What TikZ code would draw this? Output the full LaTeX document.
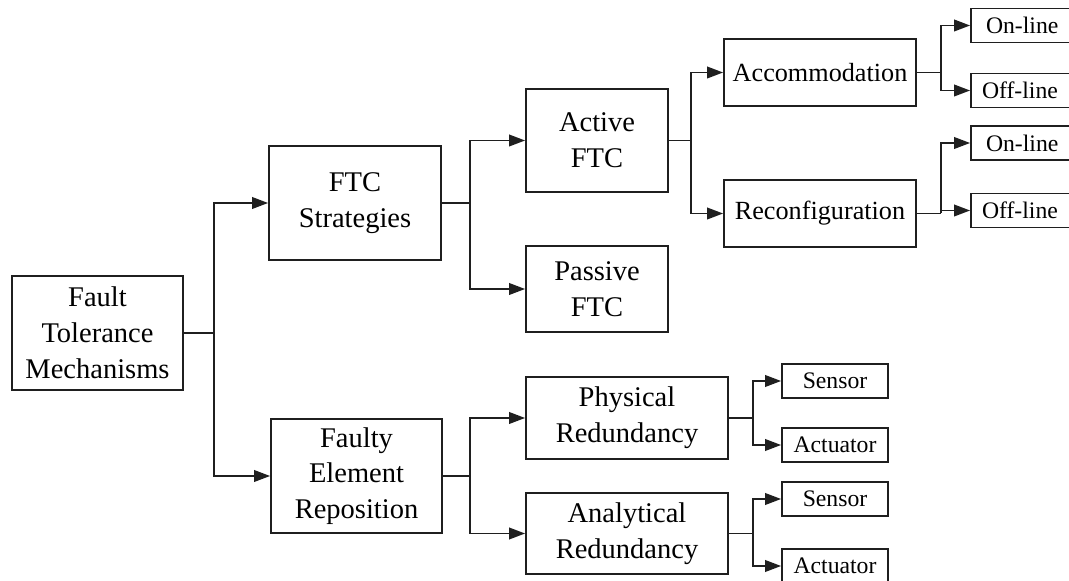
\documentclass[tikz,border=0pt]{standalone}
\usepackage{fontspec}
\setmainfont{Liberation Serif}
\usetikzlibrary{positioning,arrows.meta,calc}

\begin{document}
\begin{tikzpicture}[
  x=0.5pt, y=-0.5pt,
  >={Triangle[length=8pt, width=5.8pt]},
  box/.style={draw=black!88, line width=0.9pt, align=center, inner sep=2pt,
              font=\fontsize{14.25}{17.9}\selectfont},
  mid/.style={box, font=\fontsize{13.1}{16}\selectfont},
  leaf/.style={box, font=\fontsize{11.85}{14}\selectfont,
               minimum height=17pt},
  link/.style={line width=0.9pt, draw=black!88},
  flow/.style={link, ->},
]
\useasboundingbox (0,0) rectangle (1069,581);

% ---- root ----
\node[box, minimum width=85.5pt, minimum height=57pt] (ftm) at (97.5,333)
  {Fault\\Tolerance\\Mechanisms};

% ---- first level ----
\node[box, minimum width=86pt, minimum height=57pt] (ftc) at (355,203)
  {FTC\\Strategies};
\node[box, minimum width=85.5pt, minimum height=57pt] (fer) at (356.5,476)
  {Faulty\\Element\\Reposition};

% ---- second level ----
\node[box, minimum width=71pt, minimum height=51.5pt] (active) at (597,140.5)
  {Active\\FTC};
\node[box, minimum width=71pt, minimum height=43pt] (passive) at (597,289)
  {Passive\\FTC};
\node[box, minimum width=101pt, minimum height=41pt] (phys) at (627,418)
  {Physical\\Redundancy};
\node[box, minimum width=101pt, minimum height=40.5pt] (anal) at (627,533.5)
  {Analytical\\Redundancy};

% ---- third level ----
\node[mid, minimum width=96pt, minimum height=33.5pt] (accom) at (820,72.5)
  {Accommodation};
\node[mid, minimum width=96pt, minimum height=33.5pt] (reconf) at (820,213.5)
  {Reconfiguration};

% ---- leaves (right column runs off the page edge) ----
\node[leaf, minimum width=53pt, text width=44pt, align=left] (on1)  at (1024,25.5)  {\hspace{3pt}On-line};
\node[leaf, minimum width=53pt, text width=44pt, align=left] (off1) at (1024,90.5)  {\hspace{1pt}Off-line};
\node[leaf, minimum width=53pt, text width=44pt, align=left] (on2)  at (1024,143)   {\hspace{3pt}On-line};
\node[leaf, minimum width=53pt, text width=44pt, align=left] (off2) at (1024,210.5) {\hspace{1pt}Off-line};
\node[leaf, minimum width=53pt] (sen1) at (835,381)    {Sensor};
\node[leaf, minimum width=53pt] (act1) at (835,445)    {Actuator};
\node[leaf, minimum width=53pt] (sen2) at (835,499)    {Sensor};
\node[leaf, minimum width=53pt] (act2) at (835,566)    {Actuator};

% ---- flows ----
\draw[link] (ftm.east) -- ++(30,0) coordinate (j0);
\draw[flow] (j0) |- (ftc.west);
\draw[flow] (j0) |- (fer.west);

\draw[link] (ftc.east) -- ++(28,0) coordinate (j1);
\draw[flow] (j1) |- (active.west);
\draw[flow] (j1) |- (passive.west);

\draw[link] (fer.east) -- ++(27,0) coordinate (j2);
\draw[flow] (j2) |- (phys.west);
\draw[flow] (j2) |- (anal.west);

\draw[link] (active.east) -- ++(22,0) coordinate (j3);
\draw[flow] (j3) |- (accom.west);
\draw[flow] (j3) |- (reconf.west);

\draw[link] (accom.east) -- ++(24,0) coordinate (j4);
\draw[flow] (j4) |- (on1.west);
\draw[flow] (j4) |- (off1.west);

\draw[link] (reconf.east) -- ++(24,0) coordinate (j5);
\draw[flow] (j5) |- (on2.west);
\draw[flow] (j5) |- (off2.west);

\draw[link] (phys.east) -- ++(24,0) coordinate (j6);
\draw[flow] (j6) |- (sen1.west);
\draw[flow] (j6) |- (act1.west);

\draw[link] (anal.east) -- ++(24,0) coordinate (j7);
\draw[flow] (j7) |- (sen2.west);
\draw[flow] (j7) |- (act2.west);
\end{tikzpicture}
\end{document}
